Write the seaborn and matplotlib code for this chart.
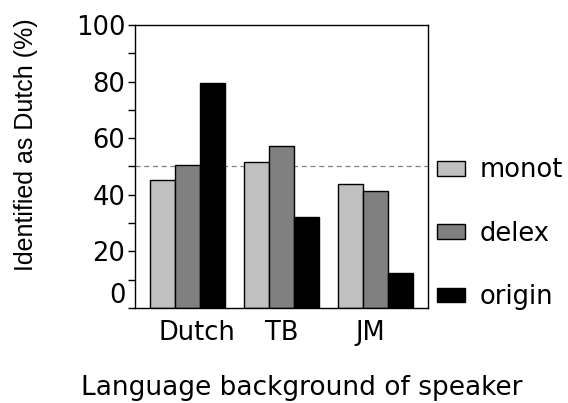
import matplotlib
matplotlib.use("Agg")
import matplotlib.pyplot as plt
import matplotlib.transforms as mtransforms
from matplotlib.ticker import MultipleLocator
import seaborn as sns
import pandas as pd

# Identification scores per speaker group and stimulus condition
speaker_groups = ["Dutch", "TB", "JM"]
conditions = ["monot", "delex", "origin"]
monot = [45.2, 51.5, 43.8]
delex = [50.5, 57.3, 41.3]
origin = [79.4, 32.2, 12.5]
chance_level = 50

colors = ["#c0c0c0", "#808080", "#000000"]

rows = []
for cond, vals in zip(conditions, [monot, delex, origin]):
    for grp, v in zip(speaker_groups, vals):
        rows.append({"group": grp, "condition": cond, "score": v})
df = pd.DataFrame(rows)

sns.set_style("white")
plt.rcParams["font.family"] = ["DejaVu Sans"]
plt.rcParams["text.color"] = "black"
plt.rcParams["axes.labelcolor"] = "black"
plt.rcParams["xtick.color"] = "black"
plt.rcParams["ytick.color"] = "black"

fig = plt.figure(figsize=(5.68, 4.03), dpi=100)
ax = fig.add_axes([0.2377, 0.2357, 0.5158, 0.7023])

sns.barplot(data=df, x="group", y="score", hue="condition",
            order=speaker_groups, hue_order=conditions,
            palette=colors, edgecolor="black", linewidth=1.0,
            width=0.8, errorbar=None, ax=ax, legend=True)

ax.axhline(chance_level, color="#808080", linestyle=(0, (4, 3)), linewidth=0.9, zorder=0)

ax.set_ylim(0, 100)
ax.set_xlim(-0.56, 2.56)
ax.yaxis.set_major_locator(MultipleLocator(20))
ax.yaxis.set_minor_locator(MultipleLocator(10))
ax.tick_params(axis="y", which="major", direction="out", length=5, width=1,
               labelsize=18.5, left=True, pad=2)
ax.tick_params(axis="y", which="minor", direction="out", length=5, width=1, left=True)
ax.tick_params(axis="x", which="both", bottom=False, labelsize=18.5, pad=5)

for s in ax.spines.values():
    s.set_visible(True)
    s.set_color("black")
    s.set_linewidth(1.0)

# lift the "0" label above the baseline
for lab in ax.get_yticklabels():
    if lab.get_text() == "0":
        lab.set_transform(lab.get_transform() +
                          mtransforms.ScaledTranslation(0, 0.15, fig.dpi_scale_trans))

# nudge the group labels slightly
x_nudge = {"Dutch": 0.09, "JM": -0.05}
for lab in ax.get_xticklabels():
    dx = x_nudge.get(lab.get_text(), 0)
    if dx:
        lab.set_transform(lab.get_transform() +
                          mtransforms.ScaledTranslation(dx, 0, fig.dpi_scale_trans))

ax.set_ylabel("Identified as Dutch (%)", fontsize=18, family="Liberation Sans",
              va="center")
ax.yaxis.set_label_coords(-0.372, 0.576)
ax.set_xlabel("Language background of speaker", fontsize=19, va="center")
ax.xaxis.set_label_coords(0.57, -0.282)

handles, labels = ax.get_legend_handles_labels()
ax.legend(handles, labels, loc="center left", bbox_to_anchor=(0.769, 0.42),
          bbox_transform=fig.transFigure, frameon=False, fontsize=18.5,
          labelspacing=1.45, handlelength=1.09, handleheight=0.5,
          handletextpad=0.58, borderpad=0, borderaxespad=0)

fig.savefig("out.png", dpi=100)
